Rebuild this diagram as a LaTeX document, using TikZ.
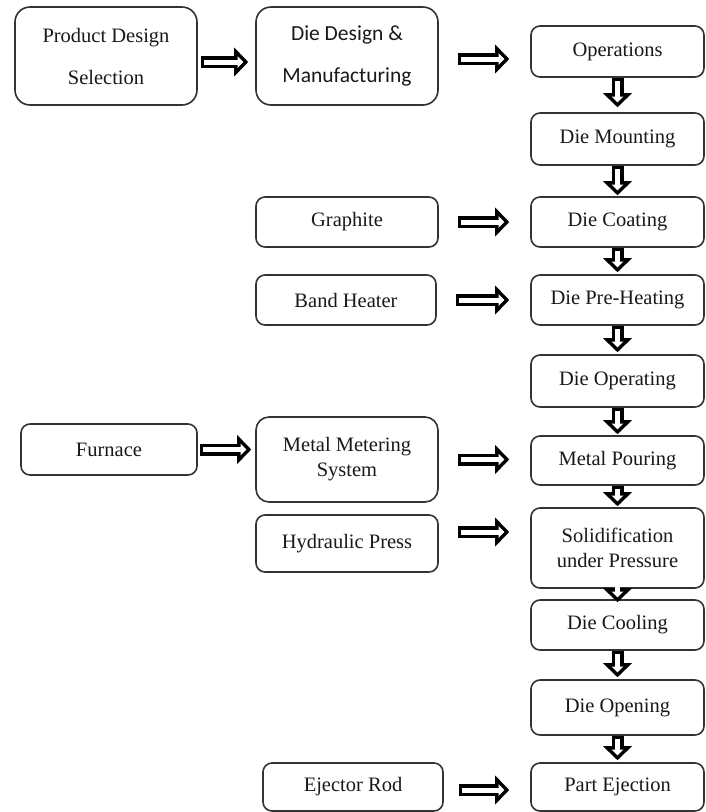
\documentclass[tikz,border=0pt]{standalone}
\usepackage{fontspec}
\setmainfont{Liberation Serif}
\newfontfamily\calibrifont{Carlito}
\usetikzlibrary{arrows.meta,positioning}

\begin{document}
\begin{tikzpicture}[
  x=1pt,y=-1pt,
  box/.style={
    draw=black!80,line width=1.6pt,rounded corners=9pt,
    fill=white,align=center,inner sep=2pt,text=black!90,
    font=\fontsize{20.5}{25}\selectfont
  },
  bigbox/.style={box,rounded corners=15pt,
    minimum width=182pt,minimum height=98pt,
    font=\fontsize{20.5}{42}\selectfont},
  stage/.style={box,minimum width=173pt,minimum height=50pt},
  feed/.style={box,minimum width=182pt,minimum height=50pt},
  pipe/.style 2 args={
    draw=black,line width=12pt,shorten <=#1,shorten >=#2,
    -{Triangle[length=14pt,width=29pt,line width=0pt]},
    postaction={draw=white,line width=5pt,
      shorten <=#1+3.5pt,shorten >=#2+4.9pt,
      -{Triangle[length=5.6pt,width=11.6pt,line width=0pt]}}
  }
]
  \useasboundingbox (0,0) rectangle (705,812);

  % top row
  \node[bigbox] (pds) at (106,56) {Product Design\\Selection};
  \node[bigbox,font=\calibrifont\fontsize{21.5}{42}\selectfont]
    (ddm) at (347,56) {Die Design \&\\Manufacturing};

  % main process column
  \node[stage,minimum height=51pt] (ops) at (617.5,51.5) {Operations};
  \node[stage,minimum height=52pt] (mount) at (617.5,139) {Die Mounting};
  \node[stage] (coat) at (617.5,222) {Die Coating};
  \node[stage] (heat) at (617.5,300) {Die Pre-Heating};
  \node[stage,minimum height=52pt] (operate) at (617.5,381) {Die Operating};
  \node[stage,minimum height=49pt] (pour) at (617.5,460.5) {Metal Pouring};
  \node[stage,minimum height=80pt] (solid) at (617.5,548)
    {Solidification\\under Pressure};
  \node[stage] (cool) at (617.5,625) {Die Cooling};
  \node[stage,minimum height=55pt] (open) at (617.5,707.5) {Die Opening};
  \node[stage,minimum height=48pt] (eject) at (617.5,787) {Part Ejection};

  % inputs
  \node[feed] (graph) at (347,222) {Graphite};
  \node[feed,minimum width=180pt] (band) at (346,300) {Band Heater};
  \node[feed,minimum width=176pt,minimum height=51pt] (furn) at (109,449.5) {Furnace};
  \node[feed,minimum height=85pt,rounded corners=13pt] (meter) at (347,459.5)
    {Metal Metering\\System};
  \node[feed,minimum height=57pt] (press) at (347,543.5) {Hydraulic Press};
  \node[feed,minimum width=180pt,minimum height=48pt] (rod) at (353,787) {Ejector Rod};

  % arrows
  \draw[pipe={3pt}{7pt}] ([yshift=-6pt]pds.east) -- ([yshift=-6pt]pds.east -| ddm.west);
  \draw[pipe={19pt}{21pt}] ([yshift=-3pt]ddm.east) -- ([yshift=-3pt]ddm.east -| ops.west);
  \draw[pipe={19pt}{21pt}] (graph.east) -- (graph.east -| coat.west);
  \draw[pipe={19pt}{21pt}] (band.east) -- (band.east -| heat.west);
  \draw[pipe={2pt}{4pt}] (furn.east) -- (furn.east -| meter.west);
  \draw[pipe={19pt}{21pt}] (meter.east) -- (meter.east -| pour.west);
  \draw[pipe={19pt}{21pt}] ([yshift=11.5pt]press.east) -- ([yshift=11.5pt]press.east -| solid.west);
  \draw[pipe={15pt}{21pt}] ([yshift=-3pt]rod.east) -- ([yshift=-3pt]rod.east -| eject.west);

  \draw[pipe={0pt}{5pt}] (ops) -- (mount);
  \draw[pipe={0pt}{1pt}] (mount) -- (coat);
  \draw[pipe={0pt}{2pt}] (coat) -- (heat);
  \draw[pipe={0pt}{2pt}] (heat) -- (operate);
  \draw[pipe={0pt}{1pt}] (operate) -- (pour);
  \draw[pipe={0pt}{1pt}] (pour) -- (solid);
  \draw[pipe={-5pt}{-3pt}] (solid) -- (cool);
  \draw[pipe={0pt}{2pt}] (cool) -- (open);
  \draw[pipe={0pt}{2pt}] (open) -- (eject);
\end{tikzpicture}
\end{document}
